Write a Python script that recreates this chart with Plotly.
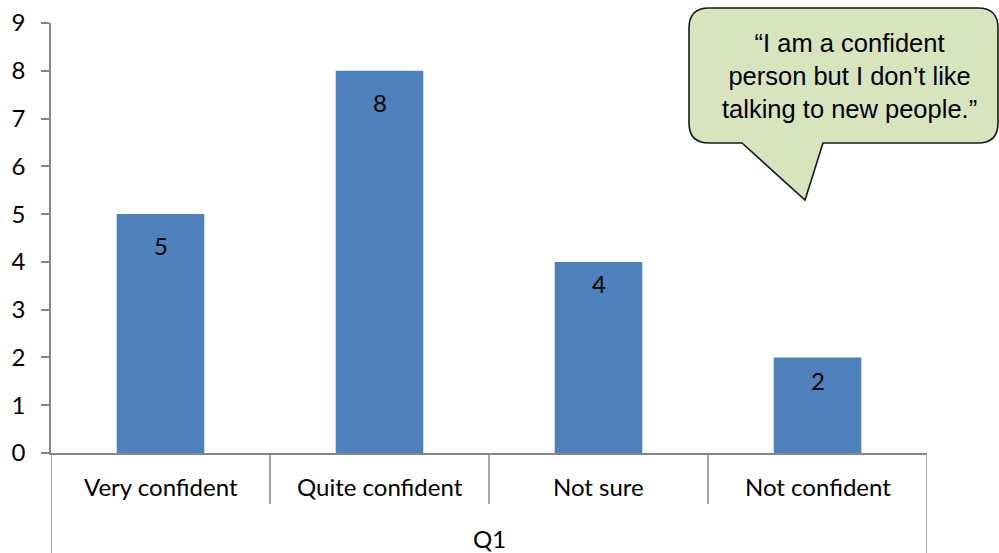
import plotly.graph_objects as go

# Survey responses for Q1
group_label = "Q1"
categories = ["Very confident", "Quite confident", "Not sure", "Not confident"]
values = [5, 8, 4, 2]
y_ticks = list(range(0, 10))
quote_lines = ["\u201cI am a confident", "person but I don\u2019t like", "talking to new people.\u201d"]

# Styling
BAR_COLOR = "#4F81BD"
AXIS_COLOR = "#878787"
FONT = "Lato, 'Noto Sans', sans-serif"
FS = 24
W, H = 999, 553
M_L, M_R, M_T, M_B = 51, 72, 23, 100
label_drop = [31, 32, 22, 23]  # pixel offset of value labels below bar tops

plot_w = W - M_L - M_R
plot_h = H - M_T - M_B


def px_x(p):
    return (p - M_L) / plot_w


def px_y(p):
    return (H - M_B - p) / plot_h


fig = go.Figure(
    go.Bar(
        x=categories,
        y=values,
        width=0.4,
        marker=dict(color=BAR_COLOR, line=dict(width=0)),
        hoverinfo="x+y",
    )
)

annotations = []
# value labels inside bars
for c, v, d in zip(categories, values, label_drop):
    annotations.append(dict(
        x=c, y=v, xref="x", yref="y", text=str(v), showarrow=False,
        yshift=-d, yanchor="middle", font=dict(family=FONT, size=FS, color="#000"),
    ))
# category labels
for i, c in enumerate(categories):
    annotations.append(dict(
        x=i, y=px_y(486), xref="x", yref="paper", text=c, showarrow=False,
        yanchor="middle", font=dict(family=FONT, size=FS, color="#000"),
    ))
# group label
annotations.append(dict(
    x=(len(categories) - 1) / 2, y=px_y(538), xref="x", yref="paper", text=group_label,
    showarrow=False, yanchor="middle", font=dict(family=FONT, size=FS, color="#000"),
))
# callout text
annotations.append(dict(
    x=px_x(849), y=px_y(76), xref="paper", yref="paper", text="<br>".join(quote_lines),
    showarrow=False, align="center", xanchor="center", yanchor="middle",
    font=dict(family="'Liberation Sans', Arial, sans-serif", size=25.5, color="#000"),
))

shapes = []
# category dividers
for i in range(1, len(categories)):
    shapes.append(dict(type="line", xref="x", yref="paper", x0=i - 0.5, x1=i - 0.5,
                       y0=0, y1=px_y(504), line=dict(color=AXIS_COLOR, width=1.5)))
# group outer dividers
for xv in (-0.5, len(categories) - 0.5):
    shapes.append(dict(type="line", xref="x", yref="paper", x0=xv, x1=xv,
                       y0=0, y1=px_y(H), line=dict(color=AXIS_COLOR, width=1.5)))

# speech-bubble callout
L, R, T, B, r = 689, 998, 8, 143, 20
pts = [
    ("M", (L + r, T)), ("L", (R - r, T)), ("Q", (R, T), (R, T + r)),
    ("L", (R, B - r)), ("Q", (R, B), (R - r, B)),
    ("L", (823, B)), ("L", (805, 200)), ("L", (742, B)),
    ("L", (L + r, B)), ("Q", (L, B), (L, B - r)),
    ("L", (L, T + r)), ("Q", (L, T), (L + r, T)),
]
path = ""
for cmd, *ps in pts:
    path += cmd + " ".join(f"{px_x(a):.5f},{px_y(b):.5f}" for a, b in ps) + " "
path += "Z"
shapes.append(dict(type="path", xref="paper", yref="paper", path=path,
                   fillcolor="#D7E4BD", line=dict(color="#1a1a1a", width=1.6), layer="above"))

fig.update_layout(
    width=W, height=H,
    margin=dict(l=M_L, r=M_R, t=M_T, b=M_B, pad=0, autoexpand=False),
    paper_bgcolor="white", plot_bgcolor="white",
    showlegend=False,
    font=dict(family=FONT, size=FS, color="#000"),
    xaxis=dict(
        range=[-0.5, len(categories) - 0.5], showticklabels=False, ticks="",
        showline=True, linecolor=AXIS_COLOR, linewidth=1.5, showgrid=False, zeroline=False,
        fixedrange=True, automargin=False,
    ),
    yaxis=dict(
        range=[0, 9], tickvals=y_ticks, ticks="outside", ticklen=8, tickwidth=1.5,
        tickcolor=AXIS_COLOR, showline=True, linecolor=AXIS_COLOR, linewidth=1.5,
        showgrid=False, zeroline=False, ticklabelstandoff=11, automargin=False,
        tickfont=dict(family=FONT, size=FS, color="#000"), fixedrange=True,
    ),
    annotations=annotations,
    shapes=shapes,
)

fig.write_html("out.html")
